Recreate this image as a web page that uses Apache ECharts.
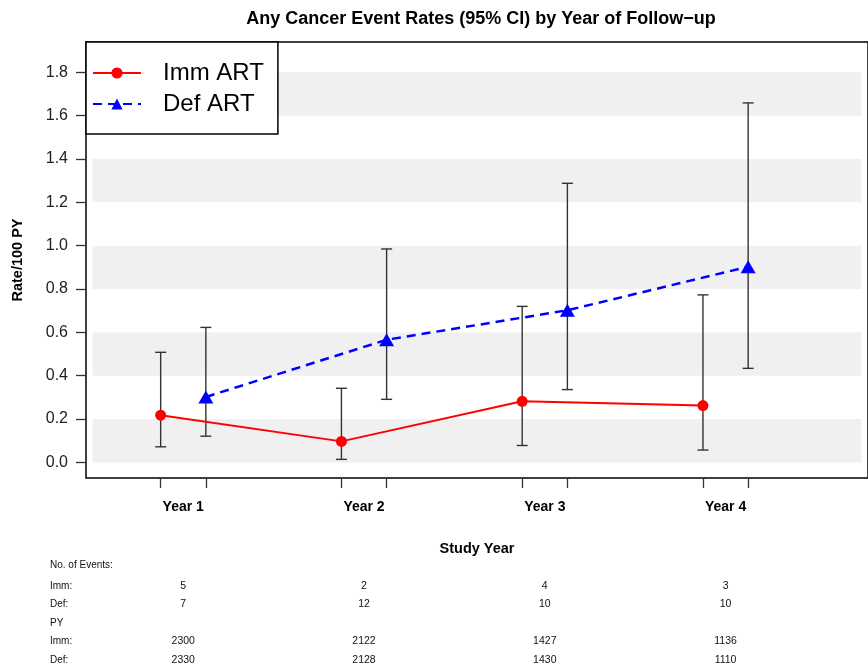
<!DOCTYPE html>
<html><head><meta charset="utf-8">
<script src="https://cdn.jsdelivr.net/npm/echarts@6/dist/echarts.min.js"></script>
<style>html,body{margin:0;padding:0;background:#fff}#c{width:868px;height:671px}</style>
</head><body><div id="c"></div>
<script>
// ---- data ----
const yearLabels = ['Year 1', 'Year 2', 'Year 3', 'Year 4'];
const immRate = [0.218, 0.097, 0.282, 0.262];
const immLow  = [0.072, 0.014, 0.078, 0.057];
const immHigh = [0.508, 0.342, 0.720, 0.773];
const defRate = [0.302, 0.566, 0.702, 0.903];
const defLow  = [0.121, 0.291, 0.336, 0.434];
const defHigh = [0.623, 0.985, 1.288, 1.659];
const yTickValues = [0, 0.2, 0.4, 0.6, 0.8, 1.0, 1.2, 1.4, 1.6, 1.8];
const bandRanges = [[0, 0.2], [0.4, 0.6], [0.8, 1.0], [1.2, 1.4], [1.6, 1.8]];
const immEvents = [5, 2, 4, 3];
const defEvents = [7, 12, 10, 10];
const immPY = [2300, 2122, 1427, 1136];
const defPY = [2330, 2128, 1430, 1110];
const defOffset = 0.25;

// ---- derived ----
const immX = yearLabels.map((_, i) => i + 1);
const defX = yearLabels.map((_, i) => i + 1 + defOffset);
const xTickValues = [];
immX.forEach((x, i) => { xTickValues.push(x, defX[i]); });
const xLabelValues = immX.map((x, i) => (x + defX[i]) / 2);

const FONT = 'Liberation Sans, Arial, sans-serif';
const chart = echarts.init(document.getElementById('c'), null, {renderer: 'canvas'});

function errRender(params, api) {
  const x = api.value(0), lo = api.value(1), hi = api.value(2);
  const pHi = api.coord([x, hi]), pLo = api.coord([x, lo]);
  const cap = 5.5;
  const st = {stroke: '#333', lineWidth: 1.4};
  return {type: 'group', children: [
    {type: 'line', shape: {x1: pHi[0], y1: pHi[1], x2: pLo[0], y2: pLo[1]}, style: st},
    {type: 'line', shape: {x1: pHi[0] - cap, y1: pHi[1], x2: pHi[0] + cap, y2: pHi[1]}, style: st},
    {type: 'line', shape: {x1: pLo[0] - cap, y1: pLo[1], x2: pLo[0] + cap, y2: pLo[1]}, style: st}
  ]};
}

const option = {
  animation: false,
  backgroundColor: '#fff',
  title: {
    text: 'Any Cancer Event Rates (95% CI) by Year of Follow\u2212up',
    left: 476, top: 5, textAlign: 'center',
    textStyle: {fontFamily: FONT, fontSize: 18, fontWeight: 'bold', color: '#000'}
  },
  legend: {
    data: ['Imm ART', 'Def ART'],
    orient: 'vertical', left: 86, top: 42,
    padding: [19, 14, 18, 6],
    itemWidth: 48, itemHeight: 14, itemGap: 7,
    backgroundColor: '#fff', borderColor: '#000', borderWidth: 1.5, borderRadius: 0,
    textStyle: {fontFamily: FONT, fontSize: 24, lineHeight: 24, color: '#000', padding: [0, 0, 0, 17]},
    z: 20
  },
  grid: {
    left: 86, top: 42, width: 786, height: 436,
    show: true, borderColor: '#000', borderWidth: 1.5, backgroundColor: '#fff',
    containLabel: false
  },
  xAxis: {
    type: 'value', min: 0.587, max: 4.913,
    name: 'Study Year', nameLocation: 'middle', nameGap: 63,
    nameTextStyle: {fontFamily: FONT, fontSize: 14.5, fontWeight: 'bold', color: '#000'},
    axisLine: {show: false, onZero: false},
    splitLine: {show: false},
    axisTick: {show: true, customValues: xTickValues, length: 10, lineStyle: {color: '#333', width: 1.3}},
    axisLabel: {
      customValues: xLabelValues, margin: 22,
      fontFamily: FONT, fontSize: 14, fontWeight: 'bold', color: '#000',
      formatter: v => yearLabels[Math.round(v - 1.125)]
    }
  },
  yAxis: {
    type: 'value', min: -0.072, max: 1.94,
    name: 'Rate/100 PY', nameLocation: 'middle', nameGap: 61, nameRotate: 90,
    nameTextStyle: {fontFamily: FONT, fontSize: 14.5, fontWeight: 'bold', color: '#000'},
    axisLine: {show: false, onZero: false},
    splitLine: {show: false},
    axisTick: {show: true, customValues: yTickValues, length: 10, lineStyle: {color: '#333', width: 1.3}},
    axisLabel: {
      customValues: yTickValues, margin: 18,
      fontFamily: FONT, fontSize: 16, color: '#222',
      formatter: v => v.toFixed(1)
    }
  },
  series: [
    {
      name: 'bands', type: 'custom', z: 1, silent: true, clip: false,
      data: bandRanges,
      encode: {y: [0, 1]},
      renderItem: (params, api) => {
        const cs = params.coordSys;
        const y0 = api.coord([1, api.value(0)])[1];
        const y1 = api.coord([1, api.value(1)])[1];
        return {type: 'rect', shape: {x: cs.x + 6.7, y: y1, width: cs.width - 13.4, height: y0 - y1},
                style: {fill: '#f0f0f0'}};
      }
    },
    {
      name: 'immErr', type: 'custom', z: 2, silent: true,
      data: immX.map((x, i) => [x, immLow[i], immHigh[i]]),
      encode: {x: 0, y: [1, 2]}, renderItem: errRender
    },
    {
      name: 'defErr', type: 'custom', z: 2, silent: true,
      data: defX.map((x, i) => [x, defLow[i], defHigh[i]]),
      encode: {x: 0, y: [1, 2]}, renderItem: errRender
    },
    {
      name: 'Imm ART', type: 'line', z: 5,
      data: immX.map((x, i) => [x, immRate[i]]),
      symbol: 'circle', symbolSize: 11,
      lineStyle: {color: '#ff0000', width: 2},
      itemStyle: {color: '#ff0000'}
    },
    {
      name: 'Def ART', type: 'line', z: 5,
      data: defX.map((x, i) => [x, defRate[i]]),
      symbol: 'triangle', symbolSize: [15, 13],
      lineStyle: {color: '#0000ff', width: 2.5, type: [9, 6]},
      itemStyle: {color: '#0000ff'}
    }
  ]
};
chart.setOption(option);

// ---- table below the plot ----
const rowLabels = ['No. of Events:', 'Imm:', 'Def:', 'PY', 'Imm:', 'Def:'];
const rowValues = [null, immEvents, defEvents, null, immPY, defPY];
const rowY = [565, 586, 604, 623, 641, 660];
const graphics = [];
rowLabels.forEach((lab, r) => {
  graphics.push({type: 'text', x: 50, y: rowY[r],
    style: {text: lab, font: '10px ' + FONT, fill: '#111', textVerticalAlign: 'middle'}});
  if (rowValues[r]) {
    rowValues[r].forEach((v, i) => {
      const px = chart.convertToPixel({gridIndex: 0}, [xLabelValues[i], 0])[0];
      graphics.push({type: 'text', x: px, y: rowY[r],
        style: {text: String(v), font: '10.5px ' + FONT, fill: '#111', textAlign: 'center', textVerticalAlign: 'middle'}});
    });
  }
});
chart.setOption({graphic: graphics});
</script>
</body></html>
